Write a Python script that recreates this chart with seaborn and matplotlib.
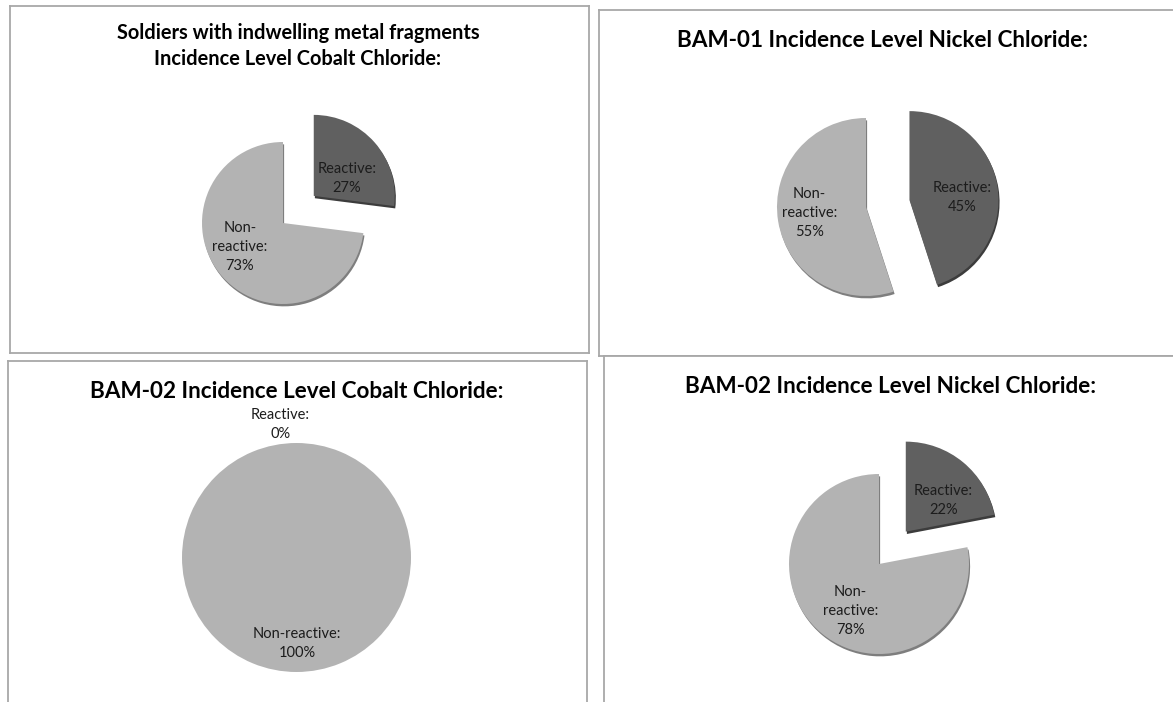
import numpy as np
import matplotlib
matplotlib.use("Agg")
import matplotlib.pyplot as plt
import matplotlib.patheffects as pe
import seaborn as sns

# ---- data -------------------------------------------------------------
categories = ["Reactive", "Non-reactive"]
titles = [
    "Soldiers with indwelling metal fragments\nIncidence Level Cobalt Chloride:",
    "BAM-01 Incidence Level Nickel Chloride:",
    "BAM-02 Incidence Level Cobalt Chloride:",
    "BAM-02 Incidence Level Nickel Chloride:",
]
reactive_pct = [27, 45, 0, 22]
nonreactive_pct = [73, 55, 100, 78]
# how each category name is wrapped inside its slice
label_names = [
    ["Reactive:", "Non-\nreactive:"],
    ["Reactive:", "Non-\nreactive:"],
    ["Reactive:", "Non-reactive:"],
    ["Reactive:", "Non-\nreactive:"],
]

# ---- style ------------------------------------------------------------
sns.set_theme(style="white")
plt.rcParams["font.family"] = ["Lato", "DejaVu Sans"]
palette = sns.color_palette(["#606060", "#b3b3b3"])
shadow_cols = ["#3c3c3c", "#7e7e7e"]

W, H = 1173, 702
fig = plt.figure(figsize=(W / 100, H / 100), dpi=100)
fig.patch.set_facecolor("white")

# panel layout in pixels: frame box, pie centre, radius, explode offset,
# title centre and size, label anchors (angle deg, fraction of radius)
layout = [
    dict(box=(9.5, 6, 589, 353), center=(283, 223), radius=81, explode=41,
         title=(298, 46), tsize=14.4, shadow=True,
         lab=[(27, 0.46), (-151, 0.61)]),
    dict(box=(599, 10, 1180, 356), center=(866, 207), radius=89, explode=44,
         title=(883, 40), tsize=16.2, shadow=True,
         lab=[(3, 0.59), (-174, 0.64)]),
    dict(box=(8, 361, 587, 712), center=(296.5, 557.5), radius=114.5, explode=0,
         title=(297, 391), tsize=16.2, shadow=False,
         lab=[(97, 1.17), (-89.7, 0.75)]),
    dict(box=(604, 356, 1180, 712), center=(879, 564), radius=90, explode=42,
         title=(891, 386), tsize=16.2, shadow=True,
         lab=[(39.4, 0.54), (-121.7, 0.61)]),
]

for i, cfg in enumerate(layout):
    x0, y0, x1, y1 = cfg["box"]
    ax = fig.add_axes([x0 / W, 1 - y1 / H, (x1 - x0) / W, (y1 - y0) / H])
    cx, cy = cfg["center"]
    values = [reactive_pct[i], nonreactive_pct[i]]
    wedges, _ = ax.pie(
        values,
        colors=palette,
        startangle=90,
        counterclock=False,
        radius=cfg["radius"],
        center=(cx - x0, y1 - cy),
        explode=[cfg["explode"], 0],
        frame=True,
        wedgeprops=dict(linewidth=0),
    )
    ax.set_xlim(0, x1 - x0)
    ax.set_ylim(0, y1 - y0)
    ax.set_aspect("auto")
    ax.set_xticks([])
    ax.set_yticks([])
    ax.set_facecolor("white")
    for sp in ax.spines.values():
        sp.set_color("#a8a8a8")
        sp.set_linewidth(1.3)

    if cfg["shadow"]:
        for w, sc in zip(wedges, shadow_cols):
            w.set_path_effects([
                pe.SimplePatchShadow(offset=(0.8, -1.7), shadow_rgbFace=sc, alpha=1.0),
                pe.Normal(),
            ])

    # slice labels: category name and percentage
    for w, name, val, (ang, frac) in zip(wedges, label_names[i], values, cfg["lab"]):
        wx, wy = w.center
        r = w.r * frac
        lx = wx + r * np.cos(np.radians(ang))
        ly = wy + r * np.sin(np.radians(ang))
        ax.text(lx, ly, f"{name}\n{val}%", ha="center", va="center",
                fontsize=10.5, color="#1c1c1c", linespacing=1.45)

    tx, ty = cfg["title"]
    ax.text(tx - x0, y1 - ty, titles[i], ha="center", va="center",
            fontsize=cfg["tsize"], fontweight="bold", color="black",
            linespacing=1.4)

fig.savefig("out.png", dpi=100, facecolor="white")
